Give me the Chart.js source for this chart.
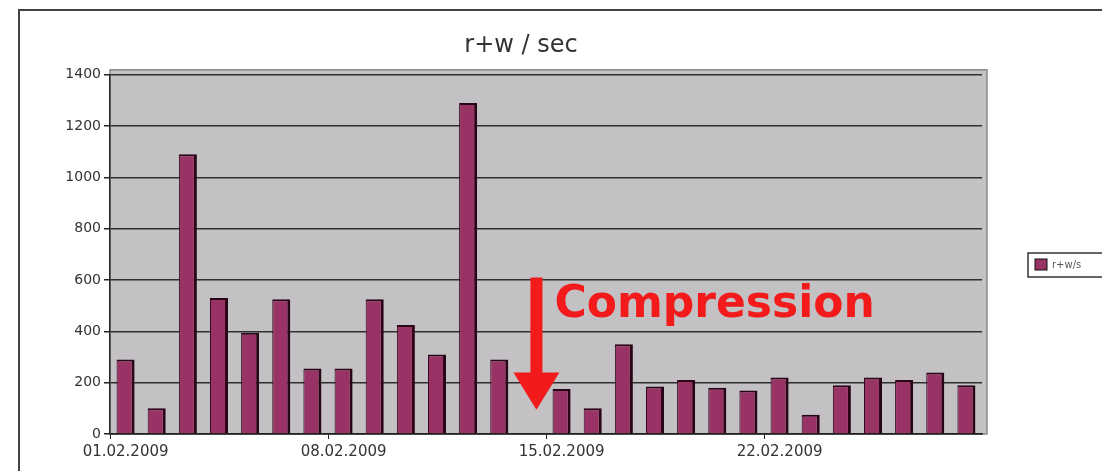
<!DOCTYPE html>
<html>
<head>
<meta charset="utf-8">
<script src="https://cdn.jsdelivr.net/npm/chart.js@4"></script>
<style>
  html, body { margin: 0; padding: 0; background: #fff; }
  #wrap { width: 1102px; height: 471px; position: relative; }
</style>
</head>
<body>
<div id="wrap"><canvas id="myChart"></canvas></div>
<script>
const days = [
    '01.02.2009', '02.02.2009', '03.02.2009', '04.02.2009', '05.02.2009', '06.02.2009', '07.02.2009',
    '08.02.2009', '09.02.2009', '10.02.2009', '11.02.2009', '12.02.2009', '13.02.2009', '14.02.2009',
    '15.02.2009', '16.02.2009', '17.02.2009', '18.02.2009', '19.02.2009', '20.02.2009', '21.02.2009',
    '22.02.2009', '23.02.2009', '24.02.2009', '25.02.2009', '26.02.2009', '27.02.2009', '28.02.2009'
];
const rwPerSec = [
    290, 100, 1090, 530, 395, 525, 255,
    255, 525, 425, 310, 1290, 290, 0,
    175, 100, 350, 185, 210, 180, 170,
    220, 75, 190, 220, 210, 240, 190
];
const yTicks = [0, 200, 400, 600, 800, 1000, 1200, 1400];
const seriesName = 'r+w/s';
const noteText = 'Compression';
const noteIndex = 13;   // 14.02 - where the arrow points

const plum = '#993366';

// grey back wall + outer frame
const backdrop = {
    id: 'backdrop',
    beforeDraw(chart) {
        const { ctx, chartArea: a } = chart;
        ctx.save();
        ctx.fillStyle = '#c3c1c4';
        ctx.fillRect(a.left, a.top - 5, a.right - a.left + 5, a.bottom - a.top + 5);
        ctx.strokeStyle = '#8a888a';
        ctx.lineWidth = 1.5;
        ctx.strokeRect(a.left, a.top - 5, a.right - a.left + 5, a.bottom - a.top + 5);
        ctx.strokeStyle = '#444';
        ctx.lineWidth = 2;
        ctx.strokeRect(19, 10, 1200, 600);
        ctx.restore();
    }
};

// red arrow + label, placed through the scales
const note = {
    id: 'note',
    afterDatasetsDraw(chart) {
        const { ctx, scales: { x, y } } = chart;
        const cx = x.getPixelForValue(noteIndex) + 6;
        const top = y.getPixelForValue(610);
        const headTop = y.getPixelForValue(240);
        const tip = y.getPixelForValue(95);
        ctx.save();
        ctx.fillStyle = '#f21a1a';
        ctx.fillRect(cx - 6, top, 12, headTop - top + 1);
        ctx.beginPath();
        ctx.moveTo(cx - 23, headTop);
        ctx.lineTo(cx + 23, headTop);
        ctx.lineTo(cx, tip);
        ctx.closePath();
        ctx.fill();
        ctx.font = 'bold 44px "DejaVu Sans"';
        ctx.textBaseline = 'alphabetic';
        ctx.fillText(noteText, cx + 18, y.getPixelForValue(455));
        ctx.restore();
    }
};

// boxed legend on the right, cut by the edge like the original
const sideLegend = {
    id: 'sideLegend',
    afterDraw(chart) {
        const { ctx } = chart;
        const ds = chart.data.datasets[0];
        ctx.save();
        ctx.strokeStyle = '#333';
        ctx.lineWidth = 1.5;
        ctx.strokeRect(1028, 253, 100, 24);
        ctx.fillStyle = ds.backgroundColor;
        ctx.fillRect(1035, 259, 12, 11);
        ctx.strokeStyle = '#111';
        ctx.lineWidth = 1;
        ctx.strokeRect(1035, 259, 12, 11);
        ctx.fillStyle = '#555';
        ctx.font = '10px "DejaVu Sans"';
        ctx.textBaseline = 'middle';
        ctx.fillText(ds.label, 1052, 265);
        ctx.restore();
    }
};

function init() {
    const ctx = document.getElementById('myChart').getContext('2d');
    new Chart(ctx, {
        type: 'bar',
        data: {
            labels: days,
            datasets: [{
                label: seriesName,
                data: rwPerSec,
                backgroundColor: plum,
                borderColor: '#2a0516',
                borderWidth: { left: 1, right: 3, top: 2, bottom: 0 },
                borderSkipped: false,
                barPercentage: 0.58,
                categoryPercentage: 1
            }]
        },
        options: {
            responsive: true,
            maintainAspectRatio: false,
            animation: false,
            layout: { padding: { left: 60, right: 120, top: 0, bottom: 0 } },
            plugins: {
                legend: { display: false },
                tooltip: { enabled: false },
                title: {
                    display: true,
                    text: 'r+w / sec',
                    color: '#333',
                    font: { family: 'DejaVu Sans', size: 24, weight: 'normal', lineHeight: 1.2 },
                    padding: { top: 31, bottom: 15 }
                }
            },
            scales: {
                x: {
                    offset: true,
                    afterFit: s => { s.height = 37; },
                    border: { display: true, color: '#222', width: 1.5 },
                    grid: {
                        offset: true,
                        drawOnChartArea: false,
                        drawTicks: true,
                        tickLength: 5,
                        tickColor: c => (c.index % 7 === 0 ? '#222' : 'rgba(0,0,0,0)')
                    },
                    ticks: {
                        autoSkip: false,
                        maxRotation: 0,
                        padding: 4,
                        color: '#333',
                        font: { family: 'DejaVu Sans', size: 15 },
                        callback: (v, i) => (i % 7 === 0 ? days[i] : '')
                    }
                },
                y: {
                    min: 0,
                    max: 1400,
                    afterFit: s => { s.width = 50; },
                    afterBuildTicks: s => { s.ticks = yTicks.map(v => ({ value: v })); },
                    border: { display: true, color: '#222', width: 1.5 },
                    grid: { color: '#2e2e2e', lineWidth: 1.5, tickLength: 6, tickColor: '#222' },
                    ticks: {
                        padding: 3,
                        color: '#333',
                        font: { family: 'DejaVu Sans', size: 14 },
                        callback: v => String(v)
                    }
                }
            }
        },
        plugins: [backdrop, note, sideLegend]
    });
}

window.addEventListener('DOMContentLoaded', init);
</script>
</body>
</html>
